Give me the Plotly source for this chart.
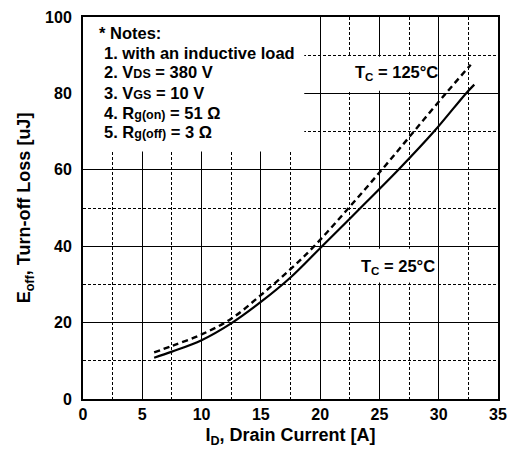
import plotly.graph_objects as go

# Data
id_25 = [6, 7.5, 10, 12.5, 15, 17.5, 20.1, 23.4, 26.6, 29.6, 32.3, 33]
eoff_25 = [10.8, 12.4, 15.4, 19.8, 25.4, 31.8, 39.8, 50, 60, 70, 80, 82.3]
id_125 = [6, 7.5, 10, 12.5, 15, 17.5, 19.5, 22.4, 25.2, 27.9, 30.6, 32.7]
eoff_125 = [12.2, 13.9, 16.9, 21, 27.2, 34, 40, 50, 60, 70, 80, 87.5]

x_ticks = [0, 5, 10, 15, 20, 25, 30, 35]
y_ticks = [0, 20, 40, 60, 80, 100]

FONT = "Liberation Sans, Arial, sans-serif"
SUB = "font-size:12.5px"

fig = go.Figure()
fig.add_trace(go.Scatter(x=id_25, y=eoff_25, mode="lines",
                         line=dict(color="black", width=2.2, shape="spline", smoothing=1.0),
                         showlegend=False))
fig.add_trace(go.Scatter(x=id_125, y=eoff_125, mode="lines",
                         line=dict(color="black", width=2.4, dash="6px,4px", shape="spline", smoothing=1.0),
                         showlegend=False))

# white boxes covering the grid
for (x0, x1, y0, y1) in [(0, 18.66, 64.8, 100), (20.5, 29.5, 80.7, 89.6), (20.8, 29.5, 30.5, 39.3)]:
    fig.add_shape(type="rect", xref="x", yref="y", x0=x0, x1=x1, y0=y0, y1=y1,
                  fillcolor="white", line=dict(width=0), layer="between")

notes = [
    ("<b>* Notes:</b>", 1.2, 95.9),
    ("<b>1. with an inductive load</b>", 1.57, 90.7),
    (f"<b>2. V<span style='{SUB}'>DS</span> = 380 V</b>", 1.57, 85.5),
    (f"<b>3. V<span style='{SUB}'>GS</span> = 10 V</b>", 1.57, 80.0),
    (f"<b>4. R<span style='{SUB}'>g(on)</span> = 51 Ω</b>", 1.57, 75.0),
    (f"<b>5. R<span style='{SUB}'>g(off)</span> = 3 Ω</b>", 1.57, 69.8),
]
for txt, x, y in notes:
    fig.add_annotation(x=x, y=y, xref="x", yref="y", text=txt, showarrow=False,
                       xanchor="left", yanchor="middle",
                       font=dict(family=FONT, size=16.5, color="black"))

fig.add_annotation(x=26.4, y=85.4, xref="x", yref="y", text="<b>T<sub>C</sub> = 125°C</b>",
                   showarrow=False, font=dict(family=FONT, size=16.5, color="black"))
fig.add_annotation(x=26.55, y=34.6, xref="x", yref="y", text="<b>T<sub>C</sub> = 25°C</b>",
                   showarrow=False, font=dict(family=FONT, size=16.5, color="black"))

fig.update_layout(
    width=516, height=453,
    margin=dict(l=83, r=9, t=15, b=54),
    plot_bgcolor="white", paper_bgcolor="white",
    font=dict(family=FONT, color="black"),
    xaxis=dict(range=[0, 35], tickvals=x_ticks, ticktext=[f"<b>{v}</b>" for v in x_ticks],
               showgrid=True, gridcolor="black", gridwidth=1,
               minor=dict(dtick=2.5, tick0=0, showgrid=True, gridcolor="black", gridwidth=1, griddash="3px,2px"),
               showline=True, linecolor="black", linewidth=2, mirror=True,
               ticks="", zeroline=False, tickfont=dict(size=16, family=FONT),
               title=dict(text="<b>I<sub>D</sub>, Drain Current [A]</b>", font=dict(size=18, family=FONT), standoff=6)),
    yaxis=dict(range=[0, 100], tickvals=y_ticks, ticktext=[f"<b>{v}</b>" for v in y_ticks],
               showgrid=True, gridcolor="black", gridwidth=1,
               minor=dict(dtick=10, tick0=0, showgrid=True, gridcolor="black", gridwidth=1, griddash="3px,2px"),
               showline=True, linecolor="black", linewidth=2, mirror=True,
               ticks="", zeroline=False, tickfont=dict(size=16, family=FONT), ticklabelstandoff=6,
               title=dict(text="<b>E<sub>off</sub>, Turn-off Loss [uJ]</b>", font=dict(size=18, family=FONT), standoff=10)),
)

fig.write_html("out.html")
